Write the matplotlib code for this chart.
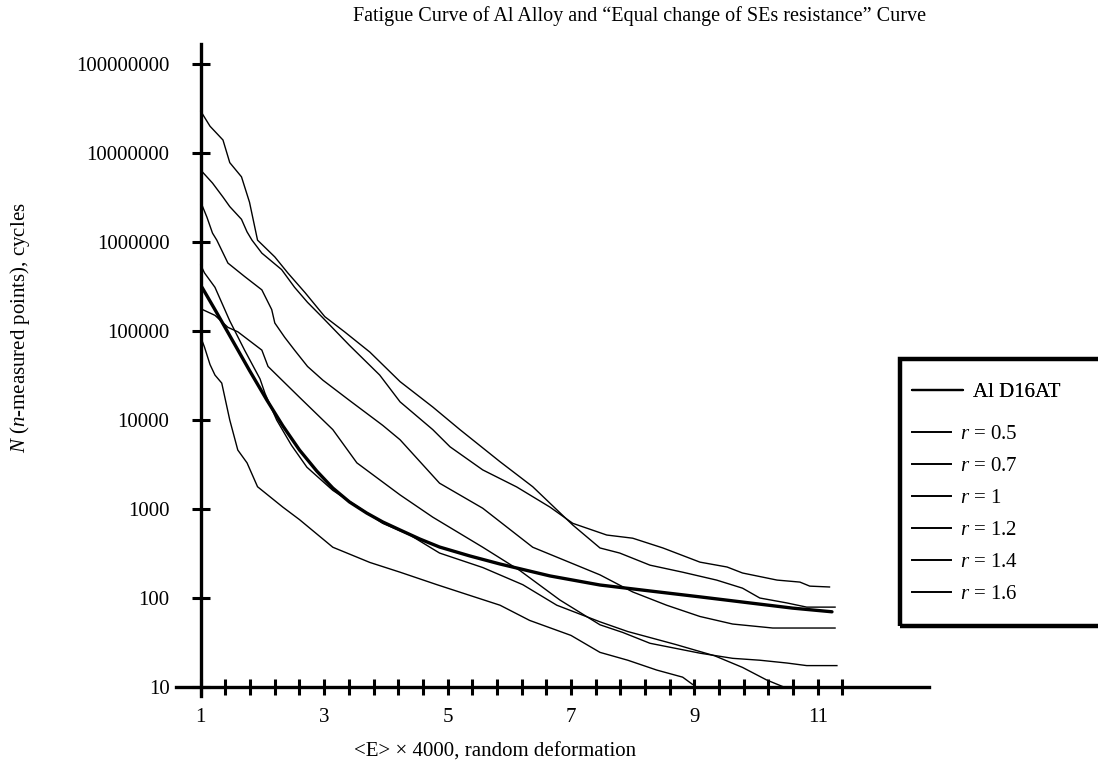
import matplotlib
matplotlib.use("Agg")
import matplotlib.pyplot as plt
from matplotlib.patches import Rectangle
import numpy as np

plt.rcParams['font.family'] = ['Liberation Serif', 'DejaVu Serif']
plt.rcParams['mathtext.fontset'] = 'custom'
plt.rcParams['mathtext.it'] = 'Liberation Serif:italic'
plt.rcParams['mathtext.rm'] = 'Liberation Serif'

# ---------------- data ----------------
x_al = [1.02, 1.26, 1.52, 1.79, 2.07, 2.33, 2.60, 2.88, 3.14, 3.41, 3.69, 3.95, 4.23,
        4.55, 4.87, 5.36, 5.85, 6.66, 7.47, 8.28, 9.09, 9.90, 10.59, 11.23]
n_al = [3.1e5, 1.6e5, 7.7e4, 3.6e4, 1.68e4, 8.6e3, 4.6e3, 2.67e3, 1.72e3, 1.2e3, 900, 715, 581,
        460, 374, 297, 241, 177, 140, 120, 103, 88, 77, 70]

x_r05 = [1.0, 1.06, 1.15, 1.23, 1.34, 1.47, 1.60, 1.75, 1.92, 2.33, 2.60, 3.14, 3.74, 4.23,
         4.83, 5.36, 5.85, 6.33, 7.0, 7.47, 7.92, 8.39, 8.81, 8.97]
n_r05 = [8.5e4, 6.6e4, 4.2e4, 3.2e4, 2.6e4, 1.0e4, 4.6e3, 3.3e3, 1.78e3, 1.05e3, 760, 372, 251, 195,
         141, 107, 83, 56, 38, 24.5, 20, 15.5, 12.9, 10.7]

x_r07 = [1.0, 1.06, 1.23, 1.47, 1.71, 1.96, 2.04, 2.23, 2.47, 2.72, 3.14, 3.58, 3.95, 4.39,
         4.87, 5.57, 6.22, 6.77, 7.47, 7.92, 8.70, 9.33, 9.78, 10.17, 10.48]
n_r07 = [5.5e5, 4.5e5, 3.1e5, 1.3e5, 6.1e4, 2.9e4, 2.0e4, 1.0e4, 5.2e3, 2.95e3, 1.62e3, 1.02e3, 690, 510,
         320, 220, 141, 83, 54, 42, 30, 22.4, 16.6, 12, 9.8]

x_r1 = [1.03, 1.23, 1.44, 1.60, 1.99, 2.09, 2.60, 3.14, 3.53, 4.23, 4.76, 5.57, 6.17, 6.82,
        7.47, 7.84, 8.28, 9.09, 9.62, 10.06, 10.50, 10.82, 11.31]
n_r1 = [1.74e5, 1.5e5, 1.1e5, 9.8e4, 6.1e4, 4.0e4, 1.8e4, 7.8e3, 3.3e3, 1.44e3, 810, 372, 204, 95,
        50, 41, 31, 24, 21, 20, 18.6, 17.4, 17.4]

x_r12 = [1.02, 1.10, 1.19, 1.26, 1.44, 1.71, 1.99, 2.15, 2.20, 2.36, 2.52, 2.73, 2.98, 3.41,
         3.95, 4.23, 4.87, 5.57, 6.38, 6.98, 7.47, 8.00, 8.55, 9.09, 9.62, 10.27, 11.28]
n_r12 = [2.6e6, 1.9e6, 1.26e6, 1.05e6, 5.8e5, 4.1e5, 2.9e5, 1.74e5, 1.23e5, 8.5e4, 6.1e4, 4.0e4, 2.8e4, 1.66e4,
         8.7e3, 6.0e3, 1.95e3, 1.02e3, 372, 251, 182, 117, 83, 62, 51, 46, 46]

x_r14 = [1.0, 1.15, 1.26, 1.36, 1.47, 1.66, 1.79, 1.92, 2.20, 2.41, 2.69, 3.01, 3.33, 3.74,
         4.23, 4.76, 5.20, 5.85, 6.38, 7.03, 7.47, 7.79, 8.28, 8.81, 9.36, 9.78, 10.06, 10.50,
         10.82, 11.28]
n_r14 = [2.95e7, 2.0e7, 1.66e7, 1.4e7, 7.8e6, 5.4e6, 2.8e6, 1.05e6, 6.8e5, 4.5e5, 2.7e5, 1.45e5, 9.8e4, 5.8e4,
         2.7e4, 1.4e4, 7.8e3, 3.4e3, 1.78e3, 660, 365, 320, 234, 195, 159, 129, 100, 88,
         79, 79]

x_r16 = [1.02, 1.19, 1.36, 1.47, 1.66, 1.75, 1.83, 1.99, 2.31, 2.52, 2.73, 2.96, 3.41, 3.90,
         4.23, 4.76, 5.04, 5.57, 6.12, 6.66, 7.03, 7.58, 8.00, 8.49, 9.09, 9.53, 9.78, 10.34,
         10.71, 10.87, 11.19]
n_r16 = [6.2e6, 4.6e6, 3.2e6, 2.5e6, 1.8e6, 1.3e6, 1.05e6, 7.5e5, 4.9e5, 3.1e5, 2.1e5, 1.45e5, 6.9e4, 3.2e4,
         1.6e4, 7.8e3, 5.0e3, 2.75e3, 1.77e3, 1.05e3, 690, 510, 470, 365, 253, 223, 191, 159,
         151, 136, 133]

ytick_vals = [1e1, 1e2, 1e3, 1e4, 1e5, 1e6, 1e7, 1e8]
ytick_labels = ["10", "100", "1000", "10000", "100000", "1000000", "10000000", "100000000"]
xlabel_vals = [1, 3, 5, 7, 9, 11]

title = "Fatigue Curve of Al Alloy and \u201cEqual change of SEs resistance\u201d Curve"

# ---------------- figure ----------------
W, H = 1098, 769
fig = plt.figure(figsize=(W / 100, H / 100), dpi=100)
fig.patch.set_facecolor('white')

ax = fig.add_axes([173 / W, 69 / H, 768.2 / W, 660 / H])
ax.set_xlim(0.55, 13.0)
ax.set_yscale('log')
ax.set_ylim(10 ** 0.854, 10 ** 8.27)
ax.patch.set_visible(False)

thin = dict(color='black', lw=1.0)
l_al, = ax.plot(x_al, n_al, color='black', lw=2.4, solid_capstyle='round',
                solid_joinstyle='round', label='Al D16AT')
l05, = ax.plot(x_r05, n_r05, **thin, label=r'$\mathit{r}$ = 0.5')
l07, = ax.plot(x_r07, n_r07, **thin, label=r'$\mathit{r}$ = 0.7')
l1, = ax.plot(x_r1, n_r1, **thin, label=r'$\mathit{r}$ = 1')
l12, = ax.plot(x_r12, n_r12, **thin, label=r'$\mathit{r}$ = 1.2')
l14, = ax.plot(x_r14, n_r14, **thin, label=r'$\mathit{r}$ = 1.4')
l16, = ax.plot(x_r16, n_r16, **thin, label=r'$\mathit{r}$ = 1.6')

# spines as crossing axes
for s in ['top', 'right']:
    ax.spines[s].set_visible(False)
ax.spines['left'].set_position(('data', 1))
ax.spines['bottom'].set_position(('data', 10))
ax.spines['left'].set_bounds(10 ** 0.9, 10 ** 8.22)
ax.spines['bottom'].set_bounds(0.6, 12.8)
for s in ['left', 'bottom']:
    ax.spines[s].set_linewidth(2.4)

ax.set_yticks(ytick_vals)
ax.set_yticklabels(ytick_labels)
ax.yaxis.set_minor_locator(matplotlib.ticker.NullLocator())
xt = np.round(np.arange(1.0, 11.41, 0.4), 1)
ax.set_xticks(xt)
ax.set_xticklabels([str(int(v)) if (abs(v - round(v)) < 1e-6 and int(round(v)) in xlabel_vals) else '' for v in xt])
ax.tick_params(axis='y', direction='inout', length=13, width=2.2, pad=16, labelsize=15)
ax.tick_params(axis='x', direction='inout', length=12, width=2.2, pad=9, labelsize=15)

# titles / labels
fig.text(640 / W, 1 - 16 / H, title, ha='center', va='center', fontsize=14.5)
fig.text(20 / W, 1 - 328 / H, r'$\mathit{N}$ ($\mathit{n}$-measured points), cycles',
         rotation=90, ha='center', va='center', fontsize=15)
fig.text(495 / W, 1 - 752 / H, '<E> \u00d7 4000, random deformation',
         ha='center', va='center', fontsize=15)

# legend box
fig.add_artist(Rectangle((900 / W, 1 - 626 / H), 230 / W, 267 / H, transform=fig.transFigure,
                         fill=False, ec='black', lw=3.2))
leg1 = fig.legend(handles=[l_al], loc='upper left', bbox_to_anchor=(902 / W, 1 - 372 / H),
                  frameon=False, fontsize=15, borderpad=0, handlelength=2.45, handletextpad=0.45)
for ln in leg1.get_lines():
    ln.set_linewidth(1.6)
leg2 = fig.legend(handles=[l05, l07, l1, l12, l14, l16], loc='upper left',
                  bbox_to_anchor=(902 / W, 1 - 414 / H), frameon=False, fontsize=15, borderpad=0,
                  handlelength=1.85, handletextpad=0.45, labelspacing=0.6)
for ln in leg2.get_lines():
    ln.set_linewidth(1.4)
fig.add_artist(leg1)

fig.savefig('out.png', dpi=100)
